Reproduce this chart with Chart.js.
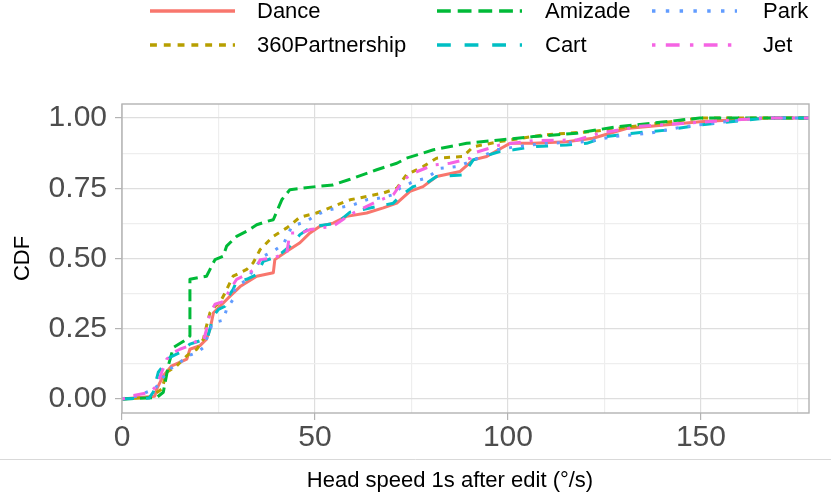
<!DOCTYPE html>
<html>
<head>
<meta charset="utf-8">
<script src="https://cdn.jsdelivr.net/npm/chart.js@4.4.1/dist/chart.umd.min.js"></script>
<style>
  html, body { margin: 0; padding: 0; background: #ffffff; }
  #wrap { width: 831px; height: 502px; position: relative; }
</style>
</head>
<body>
<div id="wrap"><canvas id="myChart" width="831" height="502"></canvas></div>
<script>
// ECDF points (x = head speed, y = CDF)
var seriesNames = ["Dance", "360Partnership", "Amizade", "Cart", "Park", "Jet"];
var seriesColors = ["#F8766D", "#B79F00", "#00BA38", "#00BFC4", "#619CFF", "#F564E3"];

var danceX = [0, 8.5, 9, 10.7, 12.9, 16.8, 17.6, 20.2, 21.9, 22.8, 23.7, 25.4, 28, 30.6, 34.9, 39.2, 39.6, 42.7, 46.1, 48.7, 51.3, 54.7, 58.2, 63.4, 67.7, 71.2, 74.6, 78, 81.5, 87.6, 91, 94.5, 97.9, 100.5, 106.6, 115.2, 122, 130.7, 149.7, 167, 180];
var danceY = [0, 0.01, 0.035, 0.083, 0.118, 0.142, 0.177, 0.19, 0.213, 0.248, 0.307, 0.33, 0.366, 0.40, 0.437, 0.449, 0.496, 0.526, 0.556, 0.591, 0.615, 0.626, 0.65, 0.662, 0.68, 0.697, 0.739, 0.756, 0.792, 0.81, 0.851, 0.863, 0.89, 0.91, 0.91, 0.916, 0.928, 0.963, 0.987, 1.0, 1.0];

var partnershipX = [0, 7.3, 10.3, 11.6, 14.2, 16.8, 19.4, 21.1, 21.9, 22.8, 24.1, 25.4, 26.7, 28.8, 32.3, 34, 35.8, 39.2, 42.7, 46.1, 50.4, 59.1, 67.7, 71.2, 73.7, 78, 81.5, 88.4, 91, 97.9, 109.1, 122, 135, 150, 180];
var partnershipY = [0, 0.006, 0.035, 0.095, 0.118, 0.154, 0.177, 0.213, 0.26, 0.307, 0.33, 0.343, 0.378, 0.437, 0.461, 0.485, 0.532, 0.579, 0.609, 0.647, 0.662, 0.709, 0.733, 0.75, 0.798, 0.827, 0.857, 0.863, 0.898, 0.916, 0.94, 0.952, 0.975, 1.0, 1.0];

var amizadeX = [0, 9, 10.7, 12, 13.3, 16.8, 17.6, 17.6, 21.9, 24.1, 26.2, 27.1, 29.7, 32.3, 34.9, 37.5, 39.2, 41.4, 43.5, 49.6, 54.7, 59.1, 66, 71.2, 73.7, 80.7, 89.3, 97.9, 106.6, 117.8, 128.1, 136.8, 149.7, 180];
var amizadeY = [0, 0.005, 0.024, 0.118, 0.183, 0.213, 0.224, 0.426, 0.437, 0.496, 0.508, 0.544, 0.579, 0.597, 0.62, 0.632, 0.638, 0.709, 0.745, 0.755, 0.762, 0.782, 0.816, 0.839, 0.857, 0.887, 0.91, 0.922, 0.934, 0.946, 0.969, 0.981, 1.0, 1.0];

var cartX = [0, 7, 8.1, 9.4, 10.7, 12.4, 15, 17.6, 20.2, 22, 23.7, 25, 26.7, 27.1, 28.8, 29.7, 32.3, 34.9, 36.6, 39.2, 41.4, 43.5, 46.1, 48.7, 50.4, 55.6, 59.1, 70.3, 72, 75.5, 78.9, 81.5, 88.4, 91, 97.9, 101.4, 106.6, 115.2, 120.4, 125.6, 132.5, 141.1, 149.7, 160.1, 167, 180];
var cartY = [0, 0.003, 0.024, 0.095, 0.118, 0.148, 0.165, 0.195, 0.207, 0.21, 0.295, 0.319, 0.33, 0.355, 0.39, 0.42, 0.426, 0.443, 0.49, 0.502, 0.52, 0.544, 0.585, 0.609, 0.615, 0.626, 0.665, 0.697, 0.721, 0.756, 0.768, 0.792, 0.798, 0.851, 0.881, 0.887, 0.898, 0.904, 0.91, 0.934, 0.946, 0.957, 0.975, 0.99, 1.0, 1.0];

var parkX = [0, 4, 6.4, 8.5, 10.3, 12.4, 15, 17.2, 19.4, 21.1, 21.9, 23.2, 23.7, 26.2, 27.1, 28.8, 29.2, 32.3, 36.6, 39.2, 41.8, 44, 47.8, 50.4, 53.9, 59.9, 63.4, 66.8, 70.3, 72, 75.5, 78.9, 82.4, 86.7, 90.2, 97.1, 102.2, 110, 120.4, 127.3, 136.8, 145.4, 156.6, 165, 180];
var parkY = [0, 0.01, 0.024, 0.035, 0.071, 0.106, 0.13, 0.154, 0.165, 0.183, 0.213, 0.26, 0.272, 0.28, 0.319, 0.355, 0.39, 0.426, 0.508, 0.526, 0.55, 0.615, 0.632, 0.656, 0.674, 0.691, 0.709, 0.715, 0.727, 0.75, 0.774, 0.786, 0.821, 0.827, 0.845, 0.887, 0.898, 0.91, 0.916, 0.934, 0.946, 0.969, 0.987, 1.0, 1.0];

var jetX = [0, 2.9, 7.3, 9, 10.3, 11.6, 13.3, 15, 17.6, 19.4, 21.1, 21.9, 22.8, 24.1, 26.7, 27.5, 29.7, 32.3, 34.9, 35.8, 39.2, 42.7, 43.5, 46.5, 48.7, 54.7, 59.1, 66, 70.3, 72.9, 75.5, 80.7, 85, 90.2, 91, 97.9, 106.6, 117.8, 123.8, 134.2, 145.4, 158.3, 167, 180];
var jetY = [0, 0.012, 0.024, 0.047, 0.095, 0.142, 0.165, 0.177, 0.19, 0.207, 0.207, 0.248, 0.307, 0.337, 0.349, 0.378, 0.426, 0.443, 0.467, 0.496, 0.502, 0.52, 0.591, 0.591, 0.603, 0.615, 0.656, 0.703, 0.727, 0.78, 0.804, 0.833, 0.839, 0.857, 0.875, 0.904, 0.92, 0.922, 0.946, 0.971, 0.981, 0.993, 1.0, 1.0];

var yTicks = [0, 0.125, 0.25, 0.375, 0.5, 0.625, 0.75, 0.875, 1];
var yMajor = [0, 0.25, 0.5, 0.75, 1];
var xTicks = [0, 25, 50, 75, 100, 125, 150, 175];
var xMajor = [0, 50, 100, 150];

var allX = [danceX, partnershipX, amizadeX, cartX, parkX, jetX];
var allY = [danceY, partnershipY, amizadeY, cartY, parkY, jetY];
// ggplot linetypes: solid, 22, 42, 44, 13, 1343 (scaled by line width)
var dashes = [[], [6, 6], [12, 6], [12, 12], [3, 9], [3, 9, 12, 9]];

function toPoints(xs, ys){
    var pts = [];
    for(let i=0; i<xs.length; i++){
        pts.push({x: xs[i], y: ys[i]});
    }
    return pts;
}

var datasets = [];
for(let i=0; i<seriesNames.length; i++){
    datasets.push({
        label: seriesNames[i],
        data: toPoints(allX[i], allY[i]),
        borderColor: seriesColors[i],
        backgroundColor: seriesColors[i],
        borderWidth: 3,
        borderDash: dashes[i],
        borderCapStyle: "butt",
        borderJoinStyle: "round",
        showLine: true,
        pointRadius: 0,
        tension: 0,
        fill: false,
        order: seriesNames.length - i
    });
}

var FONT = "'Liberation Sans', Arial, sans-serif";

var decor = {
    id: "decor",
    beforeDraw: function(chart){
        var ctx = chart.ctx;
        ctx.save();
        ctx.fillStyle = "#ffffff";
        ctx.fillRect(0, 0, chart.width, chart.height);
        ctx.restore();
    },
    afterDatasetsDraw: function(chart){
        var a = chart.chartArea;
        var ctx = chart.ctx;
        ctx.save();
        ctx.strokeStyle = "#b3b3b3";
        ctx.lineWidth = 1.4;
        ctx.strokeRect(a.left, a.top, a.right - a.left, a.bottom - a.top);
        ctx.restore();
    },
    afterDraw: function(chart){
        var ctx = chart.ctx;
        var a = chart.chartArea;
        ctx.save();

        // separator line above the x title
        ctx.strokeStyle = "#d9d9d9";
        ctx.lineWidth = 1;
        ctx.beginPath();
        ctx.moveTo(0, 459.5);
        ctx.lineTo(chart.width, 459.5);
        ctx.stroke();

        // axis titles
        ctx.fillStyle = "#000000";
        ctx.font = "22px " + FONT;
        ctx.textAlign = "center";
        ctx.textBaseline = "middle";
        ctx.fillText("Head speed 1s after edit (°/s)", 450, 481);

        ctx.save();
        ctx.translate(23, (a.top + a.bottom) / 2);
        ctx.rotate(-Math.PI / 2);
        ctx.fillText("CDF", 0, 0);
        ctx.restore();

        // legend, 3 columns x 2 rows
        var lineX = [150, 437, 652];
        var textX = [257, 545, 763];
        var rowY = [11, 45];
        var ds = chart.data.datasets;
        ctx.textAlign = "left";
        for(let i=0; i<ds.length; i++){
            var col = Math.floor(i / 2);
            var row = i % 2;
            ctx.strokeStyle = ds[i].borderColor;
            ctx.lineWidth = 3.5;
            ctx.lineCap = "butt";
            ctx.setLineDash(ds[i].borderDash.map(function(d){ return d * 1.15; }));
            ctx.beginPath();
            ctx.moveTo(lineX[col], rowY[row]);
            ctx.lineTo(lineX[col] + 85, rowY[row]);
            ctx.stroke();
            ctx.setLineDash([]);
            ctx.fillStyle = "#000000";
            ctx.fillText(ds[i].label, textX[col], rowY[row] + 1);
        }
        ctx.restore();
    }
};

function gridColor(major){
    return function(c){
        if(!c.tick) return "rgba(0,0,0,0)";
        return major.indexOf(c.tick.value) >= 0 ? "#dedede" : "#eeeeee";
    };
}
function tickColor(major){
    return function(c){
        if(!c.tick) return "rgba(0,0,0,0)";
        return major.indexOf(c.tick.value) >= 0 ? "#b3b3b3" : "rgba(0,0,0,0)";
    };
}

var chart = new Chart("myChart", {
    type: "scatter",
    data: { datasets: datasets },
    plugins: [decor],
    options: {
        responsive: false,
        animation: false,
        events: [],
        layout: { padding: { top: 104, right: 22, left: 0, bottom: 0 } },
        plugins: {
            legend: { display: false },
            tooltip: { enabled: false }
        },
        scales: {
            x: {
                type: "linear",
                min: 0,
                max: 178,
                afterBuildTicks: function(axis){
                    axis.ticks = xTicks.map(function(v){ return {value: v}; });
                },
                afterFit: function(axis){ axis.height = 89; },
                border: { display: false },
                grid: {
                    color: gridColor(xMajor),
                    lineWidth: 1.2,
                    drawTicks: true,
                    tickLength: 7,
                    tickColor: tickColor(xMajor),
                    tickWidth: 1.2
                },
                ticks: {
                    autoSkip: false,
                    maxRotation: 0,
                    padding: 0,
                    color: "#4d4d4d",
                    font: { family: FONT, size: 30 },
                    callback: function(v){
                        return xMajor.indexOf(v) >= 0 ? String(v) : "";
                    }
                }
            },
            y: {
                type: "linear",
                min: -0.05,
                max: 1.05,
                afterBuildTicks: function(axis){
                    axis.ticks = yTicks.map(function(v){ return {value: v}; });
                },
                afterFit: function(axis){ axis.width = 122; },
                border: { display: false },
                grid: {
                    color: gridColor(yMajor),
                    lineWidth: 1.2,
                    drawTicks: true,
                    tickLength: 7,
                    tickColor: tickColor(yMajor),
                    tickWidth: 1.2
                },
                ticks: {
                    autoSkip: false,
                    padding: 8,
                    color: "#4d4d4d",
                    font: { family: FONT, size: 30 },
                    callback: function(v){
                        return yMajor.indexOf(v) >= 0 ? v.toFixed(2) : "";
                    }
                }
            }
        }
    }
});
</script>
</body>
</html>
